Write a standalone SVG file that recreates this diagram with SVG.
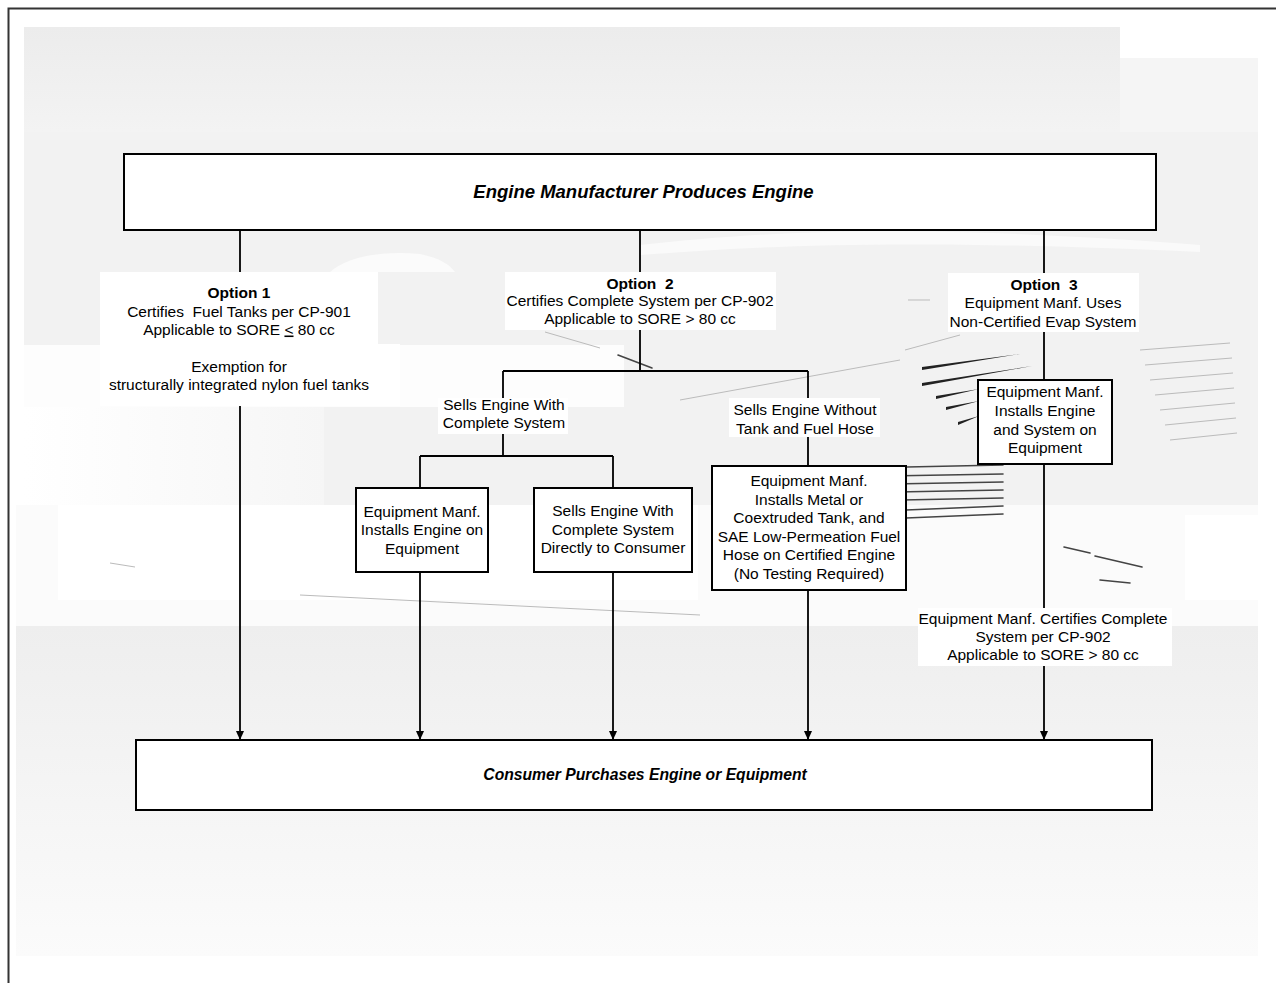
<svg xmlns="http://www.w3.org/2000/svg" width="1276" height="983" viewBox="0 0 1276 983">
<defs>
<style>
.t{font-family:"Liberation Sans",Arial,sans-serif;font-size:15.5px;fill:#000;text-anchor:middle}
.b{font-weight:bold}
.ti{font-family:"Liberation Sans",Arial,sans-serif;font-weight:bold;font-style:italic;fill:#000;text-anchor:middle}
.box{fill:#fff;stroke:#000;stroke-width:2}
.lbl{fill:#fff;stroke:none}
.c{fill:none;stroke:#000;stroke-width:1.8}
.s{fill:none;stroke:#444;stroke-width:1.6;stroke-linecap:round}
.sl{fill:none;stroke:#bbb;stroke-width:1}
</style>
<linearGradient id="gTop" x1="0" y1="0" x2="0" y2="1"><stop offset="0" stop-color="#ececec"/><stop offset="1" stop-color="#f3f3f3"/></linearGradient>
<linearGradient id="gBot" x1="0" y1="0" x2="0" y2="1"><stop offset="0" stop-color="#eeeeee"/><stop offset="1" stop-color="#fbfbfb"/></linearGradient>
<linearGradient id="gMid" x1="0" y1="0" x2="1" y2="0"><stop offset="0" stop-color="#ffffff"/><stop offset="1" stop-color="#f6f6f6"/></linearGradient>
<marker id="ah" markerUnits="userSpaceOnUse" markerWidth="10" markerHeight="10" viewBox="0 -5 10 10" refX="9" refY="0" orient="auto"><path d="M0,-4 L9,0 L0,4 z" fill="#000"/></marker>
</defs>
<rect width="1276" height="983" fill="#fff"/>
<g id="background">
<rect x="24" y="27" width="1096" height="105" fill="url(#gTop)"/>
<rect x="1120" y="58" width="138" height="74" fill="#f5f5f5"/>
<rect x="24" y="132" width="1234" height="373" fill="#f2f2f2"/>
<path d="M640,245 C760,232 900,222 1200,245 L1200,252 C900,238 760,246 640,255 z" fill="#fafafa"/>
<path d="M330,272 C345,258 380,250 420,254 C440,258 450,265 455,272 z" fill="#fbfbfb"/>
<rect x="24" y="345" width="600" height="62" fill="#fdfdfd"/>
<rect x="24" y="407" width="300" height="98" fill="url(#gMid)"/>
<rect x="16" y="505" width="1242" height="121" fill="#fbfbfb"/>
<rect x="58" y="505" width="640" height="95" fill="#fff"/>
<rect x="1185" y="515" width="73" height="85" fill="#fff"/>
<rect x="16" y="626" width="1242" height="330" fill="url(#gBot)"/>
<path d="M922,367 L1020,354 L922,370 z" fill="#222"/>
<path d="M922,383 L1032,366 L922,386 z" fill="#222"/>
<path d="M936,396 L979,389 L936,399 z" fill="#222"/>
<path d="M946,407 L979,401 L946,410 z" fill="#222"/>
<path d="M958,422 L979,416 L958,425 z" fill="#222"/>
<path class="s" d="M760,470 L1003,465 M770,478 L1003,474 M780,486 L1003,482 M790,494 L1003,490 M800,502 L1003,498 M906,510 L1003,506 M906,518 L1003,514"/>
<path class="sl" d="M1140,350 L1230,343 M1145,365 L1232,358 M1150,380 L1233,373 M1155,395 L1234,388 M1160,410 L1235,403 M1165,425 L1236,418 M1170,440 L1237,433"/>
<path class="s" d="M1064,547 L1090,553 M1095,556 L1142,567 M1100,580 L1130,583"/>
<path class="s" d="M618,355 L652,368"/>
<path class="sl" d="M545,332 L600,348 M908,300 L930,300 M110,563 L135,567 M300,595 L700,615 M905,350 L960,335 M680,400 L900,360"/>
</g>
<path id="frame" d="M8.5,983 V8.5 H1276" fill="none" stroke="#333" stroke-width="2"/>
<g id="connectors">
<path class="c" d="M240,230 V272"/>
<path class="c" d="M240,406 V740" marker-end="url(#ah)"/>
<path class="c" d="M640,230 V272 M640,330 V371 M503,371 H808 M503,371 V398 M503,434 V456 M420,456 H613 M420,456 V488 M613,456 V488 M808,371 V398 M808,437 V466"/>
<path class="c" d="M420,572 V740" marker-end="url(#ah)"/>
<path class="c" d="M613,572 V740" marker-end="url(#ah)"/>
<path class="c" d="M808,590 V740" marker-end="url(#ah)"/>
<path class="c" d="M1044,230 V273 M1044,332 V380 M1044,464 V608"/>
<path class="c" d="M1044,666 V740" marker-end="url(#ah)"/>
</g>
<g id="engine-manufacturer">
<rect class="box" x="124" y="154" width="1032" height="76"/>
<text class="ti" x="643.5" y="198" font-size="18.5">Engine Manufacturer Produces Engine</text>
</g>
<g id="option1">
<rect class="lbl" x="100" y="272" width="278" height="72"/>
<rect class="lbl" x="100" y="344" width="300" height="62"/>
<text class="t b" x="239" y="298">Option 1</text>
<text class="t" x="239" y="316.5" xml:space="preserve">Certifies  Fuel Tanks per CP-901</text>
<text class="t" x="239" y="334.5">Applicable to SORE <tspan text-decoration="underline">&lt;</tspan> 80 cc</text>
<text class="t" x="239" y="372">Exemption for</text>
<text class="t" x="239" y="390">structurally integrated nylon fuel tanks</text>
</g>
<g id="option2">
<rect class="lbl" x="505" y="272" width="271" height="58"/>
<text class="t b" x="640" y="288.5" xml:space="preserve">Option  2</text>
<text class="t" x="640" y="306">Certifies Complete System per CP-902</text>
<text class="t" x="640" y="323.5">Applicable to SORE &gt; 80 cc</text>
</g>
<g id="option3">
<rect class="lbl" x="948" y="273" width="191" height="59"/>
<text class="t b" x="1044" y="289.5" xml:space="preserve">Option  3</text>
<text class="t" x="1043" y="307.5">Equipment Manf. Uses</text>
<text class="t" x="1043" y="326.5">Non-Certified Evap System</text>
</g>
<g id="sells-with">
<rect class="lbl" x="438" y="398" width="130" height="36"/>
<text class="t" x="504" y="410">Sells Engine With</text>
<text class="t" x="504" y="428">Complete System</text>
</g>
<g id="sells-without">
<rect class="lbl" x="729" y="398" width="151" height="39"/>
<text class="t" x="805" y="414.5">Sells Engine Without</text>
<text class="t" x="805" y="433.5">Tank and Fuel Hose</text>
</g>
<g id="installs-engine-on">
<rect class="box" x="356" y="488" width="132" height="84"/>
<text class="t" x="422" y="516.5">Equipment Manf.</text>
<text class="t" x="422" y="535">Installs Engine on</text>
<text class="t" x="422" y="553.5">Equipment</text>
</g>
<g id="sells-directly">
<rect class="box" x="534" y="488" width="158" height="84"/>
<text class="t" x="613" y="516">Sells Engine With</text>
<text class="t" x="613" y="534.5">Complete System</text>
<text class="t" x="613" y="553">Directly to Consumer</text>
</g>
<g id="installs-metal">
<rect class="box" x="712" y="466" width="194" height="124"/>
<text class="t" x="809" y="486">Equipment Manf.</text>
<text class="t" x="809" y="504.5">Installs Metal or</text>
<text class="t" x="809" y="523">Coextruded Tank, and</text>
<text class="t" x="809" y="541.5">SAE Low-Permeation Fuel</text>
<text class="t" x="809" y="560">Hose on Certified Engine</text>
<text class="t" x="809" y="578.5">(No Testing Required)</text>
</g>
<g id="installs-system">
<rect class="box" x="978" y="380" width="134" height="84"/>
<text class="t" x="1045" y="397">Equipment Manf.</text>
<text class="t" x="1045" y="415.5">Installs Engine</text>
<text class="t" x="1045" y="434.5">and System on</text>
<text class="t" x="1045" y="452.5">Equipment</text>
</g>
<g id="equipment-certifies">
<rect class="lbl" x="918" y="608" width="254" height="58"/>
<text class="t" x="1043" y="624">Equipment Manf. Certifies Complete</text>
<text class="t" x="1043" y="642">System per CP-902</text>
<text class="t" x="1043" y="660">Applicable to SORE &gt; 80 cc</text>
</g>
<g id="consumer">
<rect class="box" x="136" y="740" width="1016" height="70"/>
<text class="ti" x="645" y="780" font-size="15.7">Consumer Purchases Engine or Equipment</text>
</g>
</svg>
